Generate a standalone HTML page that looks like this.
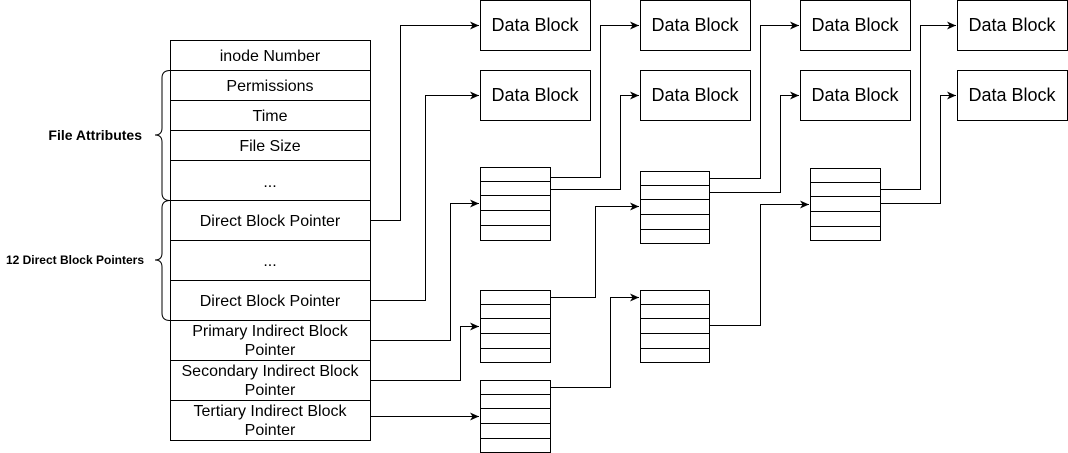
<!DOCTYPE html>
<html><head><meta charset="utf-8"><style>
html,body{margin:0;padding:0;background:#fff;}
svg{display:block;}
text{font-family:"Liberation Sans",sans-serif;fill:#000;}
</style></head><body>
<svg width="1068" height="453" viewBox="0 0 1068 453" xmlns="http://www.w3.org/2000/svg">
<defs>
<marker id="a" markerWidth="10" markerHeight="10" refX="9" refY="5" orient="auto" markerUnits="userSpaceOnUse">
<path d="M0,1 L9,5 L0,9 L2.5,5 Z" fill="#000"/>
</marker>
</defs>
<g fill="#fff" stroke="#000" stroke-width="1">
<rect x="170.5" y="40.5" width="200" height="400"/>
<path d="M170 70.5H370M170 100.5H370M170 130.5H370M170 160.5H370M170 200.5H370M170 240.5H370M170 280.5H370M170 320.5H370M170 360.5H370M170 400.5H370" fill="none"/>
<rect x="480.5" y="0.5" width="110" height="50"/><rect x="480.5" y="70.5" width="110" height="50"/>
<rect x="640.5" y="0.5" width="110" height="50"/><rect x="640.5" y="70.5" width="110" height="50"/>
<rect x="800.5" y="0.5" width="110" height="50"/><rect x="800.5" y="70.5" width="110" height="50"/>
<rect x="957.5" y="0.5" width="110" height="50"/><rect x="957.5" y="70.5" width="110" height="50"/>
<rect x="480.5" y="167.5" width="70" height="73"/>
<path d="M480 181.5H550M480 195.5H550M480 210.5H550M480 225.5H550" fill="none"/>
<rect x="480.5" y="290.5" width="70" height="72"/>
<path d="M480 304.5H550M480 318.5H550M480 333.5H550M480 348.5H550" fill="none"/>
<rect x="480.5" y="380.5" width="70" height="72"/>
<path d="M480 394.5H550M480 408.5H550M480 423.5H550M480 438.5H550" fill="none"/>
<rect x="640.5" y="171.5" width="69" height="72"/>
<path d="M640 185.5H709M640 199.5H709M640 214.5H709M640 229.5H709" fill="none"/>
<rect x="640.5" y="290.5" width="69" height="72"/>
<path d="M640 304.5H709M640 318.5H709M640 333.5H709M640 348.5H709" fill="none"/>
<rect x="810.5" y="168.5" width="70" height="72"/>
<path d="M810 182.5H880M810 196.5H880M810 211.5H880M810 226.5H880" fill="none"/>
</g>
<g fill="none" stroke="#000" stroke-width="1">
<path d="M170 70.5 Q162 70.5 162 78 V128 Q162 135 155 135 Q162 135 162 142 V193 Q162 200.5 170 200.5"/>
<path d="M170 200.5 Q162 200.5 162 208 V253 Q162 260 155 260 Q162 260 162 267 V313 Q162 320.5 170 320.5"/>
<path d="M370 220.5H400.5V25.5H479" marker-end="url(#a)"/>
<path d="M370 300.5H425.5V95.5H479" marker-end="url(#a)"/>
<path d="M370 340.5H450.5V203.5H479" marker-end="url(#a)"/>
<path d="M370 380.5H460.5V326.5H479" marker-end="url(#a)"/>
<path d="M370 416.5H479" marker-end="url(#a)"/>
<path d="M550 177.5H600.5V25.5H639" marker-end="url(#a)"/>
<path d="M550 189.5H620.5V95.5H639" marker-end="url(#a)"/>
<path d="M550 297.5H595.5V206.5H639" marker-end="url(#a)"/>
<path d="M550 387.5H610.5V297.5H639" marker-end="url(#a)"/>
<path d="M709 178.5H760.5V25.5H799" marker-end="url(#a)"/>
<path d="M709 192.5H780.5V95.5H799" marker-end="url(#a)"/>
<path d="M709 325.5H760.5V204.5H809" marker-end="url(#a)"/>
<path d="M880 189.5H920.5V25.5H956" marker-end="url(#a)"/>
<path d="M880 203.5H940.5V95.5H956" marker-end="url(#a)"/>
</g>
<g font-size="16" text-anchor="middle">
<text x="270" y="61">inode Number</text>
<text x="270" y="91">Permissions</text>
<text x="270" y="121">Time</text>
<text x="270" y="151">File Size</text>
<text x="270" y="187">...</text>
<text x="270" y="226">Direct Block Pointer</text>
<text x="270" y="266">...</text>
<text x="270" y="306">Direct Block Pointer</text>
<text x="270" y="336">Primary Indirect Block</text>
<text x="270" y="355">Pointer</text>
<text x="270" y="376">Secondary Indirect Block</text>
<text x="270" y="395">Pointer</text>
<text x="270" y="416">Tertiary Indirect Block</text>
<text x="270" y="435">Pointer</text>
<g font-size="18">
<text x="535" y="31">Data Block</text><text x="535" y="101">Data Block</text>
<text x="695" y="31">Data Block</text><text x="695" y="101">Data Block</text>
<text x="855" y="31">Data Block</text><text x="855" y="101">Data Block</text>
<text x="1012" y="31">Data Block</text><text x="1012" y="101">Data Block</text>
</g>
</g>
<text x="142" y="140" font-size="14" font-weight="bold" text-anchor="end">File Attributes</text>
<text x="144" y="264" font-size="12" font-weight="bold" text-anchor="end">12 Direct Block Pointers</text>
</svg>
</body></html>
